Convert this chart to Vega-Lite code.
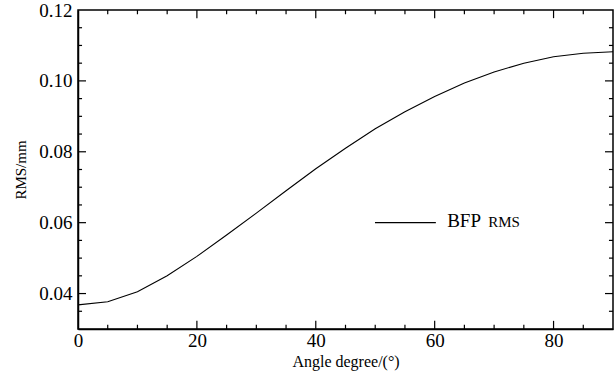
{
  "$schema": "https://vega.github.io/schema/vega-lite/v6.json",
  "width": 535,
  "height": 319,
  "autosize": {"type": "none"},
  "padding": {"left": 78, "top": 10, "right": 1, "bottom": 46},
  "background": "white",
  "config": {
    "view": {"stroke": "black", "strokeWidth": 1.5},
    "axis": {"grid": false, "domainColor": "black", "domainWidth": 1.5, "labelColor": "black", "titleColor": "black", "titleFontWeight": "normal"}
  },
  "datasets": {
    "curve": [
      {"angle": 0, "rms": 0.0368},
      {"angle": 5, "rms": 0.0377},
      {"angle": 10, "rms": 0.0405},
      {"angle": 15, "rms": 0.0450},
      {"angle": 20, "rms": 0.0505},
      {"angle": 25, "rms": 0.0565},
      {"angle": 30, "rms": 0.0627},
      {"angle": 35, "rms": 0.0690},
      {"angle": 40, "rms": 0.0752},
      {"angle": 45, "rms": 0.0810},
      {"angle": 50, "rms": 0.0865},
      {"angle": 55, "rms": 0.0913},
      {"angle": 60, "rms": 0.0956},
      {"angle": 65, "rms": 0.0994},
      {"angle": 70, "rms": 0.1025},
      {"angle": 75, "rms": 0.1050},
      {"angle": 80, "rms": 0.1068},
      {"angle": 85, "rms": 0.1078},
      {"angle": 90, "rms": 0.1082}
    ],
    "xticks": [
      {"pos": 5}, {"pos": 10}, {"pos": 15}, {"pos": 20}, {"pos": 25}, {"pos": 30}, {"pos": 35}, {"pos": 40}, {"pos": 45},
      {"pos": 50}, {"pos": 55}, {"pos": 60}, {"pos": 65}, {"pos": 70}, {"pos": 75}, {"pos": 80}, {"pos": 85}
    ],
    "yticks": [
      {"pos": 0.035}, {"pos": 0.04}, {"pos": 0.045}, {"pos": 0.05}, {"pos": 0.055}, {"pos": 0.06}, {"pos": 0.065}, {"pos": 0.07}, {"pos": 0.075},
      {"pos": 0.08}, {"pos": 0.085}, {"pos": 0.09}, {"pos": 0.095}, {"pos": 0.1}, {"pos": 0.105}, {"pos": 0.11}, {"pos": 0.115}
    ]
  },
  "layer": [
    {
      "data": {"name": "curve"},
      "mark": {"type": "line", "color": "black", "strokeWidth": 1.1},
      "encoding": {
        "x": {"field": "angle", "type": "quantitative", "scale": {"domain": [0, 90], "nice": false, "zero": false},
          "axis": {"orient": "bottom", "title": "Angle degree/(°)", "titleFont": "Liberation Serif", "titleFontSize": 16, "titlePadding": 3,
            "labelFont": "Liberation Serif", "labelFontSize": 19, "labelPadding": 10,
            "values": [0, 20, 40, 60, 80],
            "labelFlush": false, "labelOverlap": false,
            "ticks": true, "tickSize": -8, "tickOpacity": 0}},
        "y": {"field": "rms", "type": "quantitative", "scale": {"domain": [0.03, 0.12], "nice": false, "zero": false},
          "axis": {"orient": "left", "title": "RMS/mm", "titleFont": "Liberation Serif", "titleFontSize": 15, "titlePadding": 10,
            "labelFont": "Liberation Serif", "labelFontSize": 19, "labelPadding": 14,
            "values": [0.04, 0.06, 0.08, 0.1, 0.12],
            "format": ".2f",
            "labelFlush": false, "labelOverlap": false,
            "ticks": true, "tickSize": -8, "tickOpacity": 0}}
      }
    },
    {
      "data": {"name": "xticks"},
      "transform": [{"filter": "datum.pos % 20 === 0"}],
      "mark": {"type": "rule", "color": "black", "strokeWidth": 1.2},
      "encoding": {
        "x": {"field": "pos", "type": "quantitative"},
        "y": {"datum": 0.03, "type": "quantitative"},
        "y2": {"datum": 0.0323}
      }
    },
    {
      "data": {"name": "xticks"},
      "transform": [{"filter": "datum.pos % 20 !== 0"}],
      "mark": {"type": "rule", "color": "black", "strokeWidth": 1.2},
      "encoding": {
        "x": {"field": "pos", "type": "quantitative"},
        "y": {"datum": 0.03, "type": "quantitative"},
        "y2": {"datum": 0.0312}
      }
    },
    {
      "data": {"name": "xticks"},
      "transform": [{"filter": "datum.pos % 20 === 0"}],
      "mark": {"type": "rule", "color": "black", "strokeWidth": 1.2},
      "encoding": {
        "x": {"field": "pos", "type": "quantitative"},
        "y": {"datum": 0.12, "type": "quantitative"},
        "y2": {"datum": 0.1177}
      }
    },
    {
      "data": {"name": "xticks"},
      "transform": [{"filter": "datum.pos % 20 !== 0"}],
      "mark": {"type": "rule", "color": "black", "strokeWidth": 1.2},
      "encoding": {
        "x": {"field": "pos", "type": "quantitative"},
        "y": {"datum": 0.12, "type": "quantitative"},
        "y2": {"datum": 0.1188}
      }
    },
    {
      "data": {"name": "yticks"},
      "transform": [{"filter": "round(datum.pos * 1000) % 20 === 0"}],
      "mark": {"type": "rule", "color": "black", "strokeWidth": 1.2},
      "encoding": {
        "y": {"field": "pos", "type": "quantitative"},
        "x": {"datum": 0, "type": "quantitative"},
        "x2": {"datum": 1.35}
      }
    },
    {
      "data": {"name": "yticks"},
      "transform": [{"filter": "round(datum.pos * 1000) % 20 !== 0"}],
      "mark": {"type": "rule", "color": "black", "strokeWidth": 1.2},
      "encoding": {
        "y": {"field": "pos", "type": "quantitative"},
        "x": {"datum": 0, "type": "quantitative"},
        "x2": {"datum": 0.68}
      }
    },
    {
      "data": {"name": "yticks"},
      "transform": [{"filter": "round(datum.pos * 1000) % 20 === 0"}],
      "mark": {"type": "rule", "color": "black", "strokeWidth": 1.2},
      "encoding": {
        "y": {"field": "pos", "type": "quantitative"},
        "x": {"datum": 90, "type": "quantitative"},
        "x2": {"datum": 88.65}
      }
    },
    {
      "data": {"name": "yticks"},
      "transform": [{"filter": "round(datum.pos * 1000) % 20 !== 0"}],
      "mark": {"type": "rule", "color": "black", "strokeWidth": 1.2},
      "encoding": {
        "y": {"field": "pos", "type": "quantitative"},
        "x": {"datum": 90, "type": "quantitative"},
        "x2": {"datum": 89.32}
      }
    },
    {
      "data": {"values": [{"start": 49.96, "end": 60.2, "level": 0.0600}]},
      "mark": {"type": "rule", "color": "black", "strokeWidth": 1.1},
      "encoding": {
        "x": {"field": "start", "type": "quantitative"},
        "x2": {"field": "end"},
        "y": {"field": "level", "type": "quantitative"}
      }
    },
    {
      "data": {"values": [{"px": 62.1, "py": 0.0588, "label": "BFP"}]},
      "mark": {"type": "text", "align": "left", "baseline": "alphabetic", "font": "Liberation Serif", "fontSize": 19, "color": "black"},
      "encoding": {
        "x": {"field": "px", "type": "quantitative"},
        "y": {"field": "py", "type": "quantitative"},
        "text": {"field": "label"}
      }
    },
    {
      "data": {"values": [{"px": 69.0, "py": 0.0588, "label": "RMS"}]},
      "mark": {"type": "text", "align": "left", "baseline": "alphabetic", "font": "Liberation Serif", "fontSize": 15, "color": "black"},
      "encoding": {
        "x": {"field": "px", "type": "quantitative"},
        "y": {"field": "py", "type": "quantitative"},
        "text": {"field": "label"}
      }
    }
  ]
}
